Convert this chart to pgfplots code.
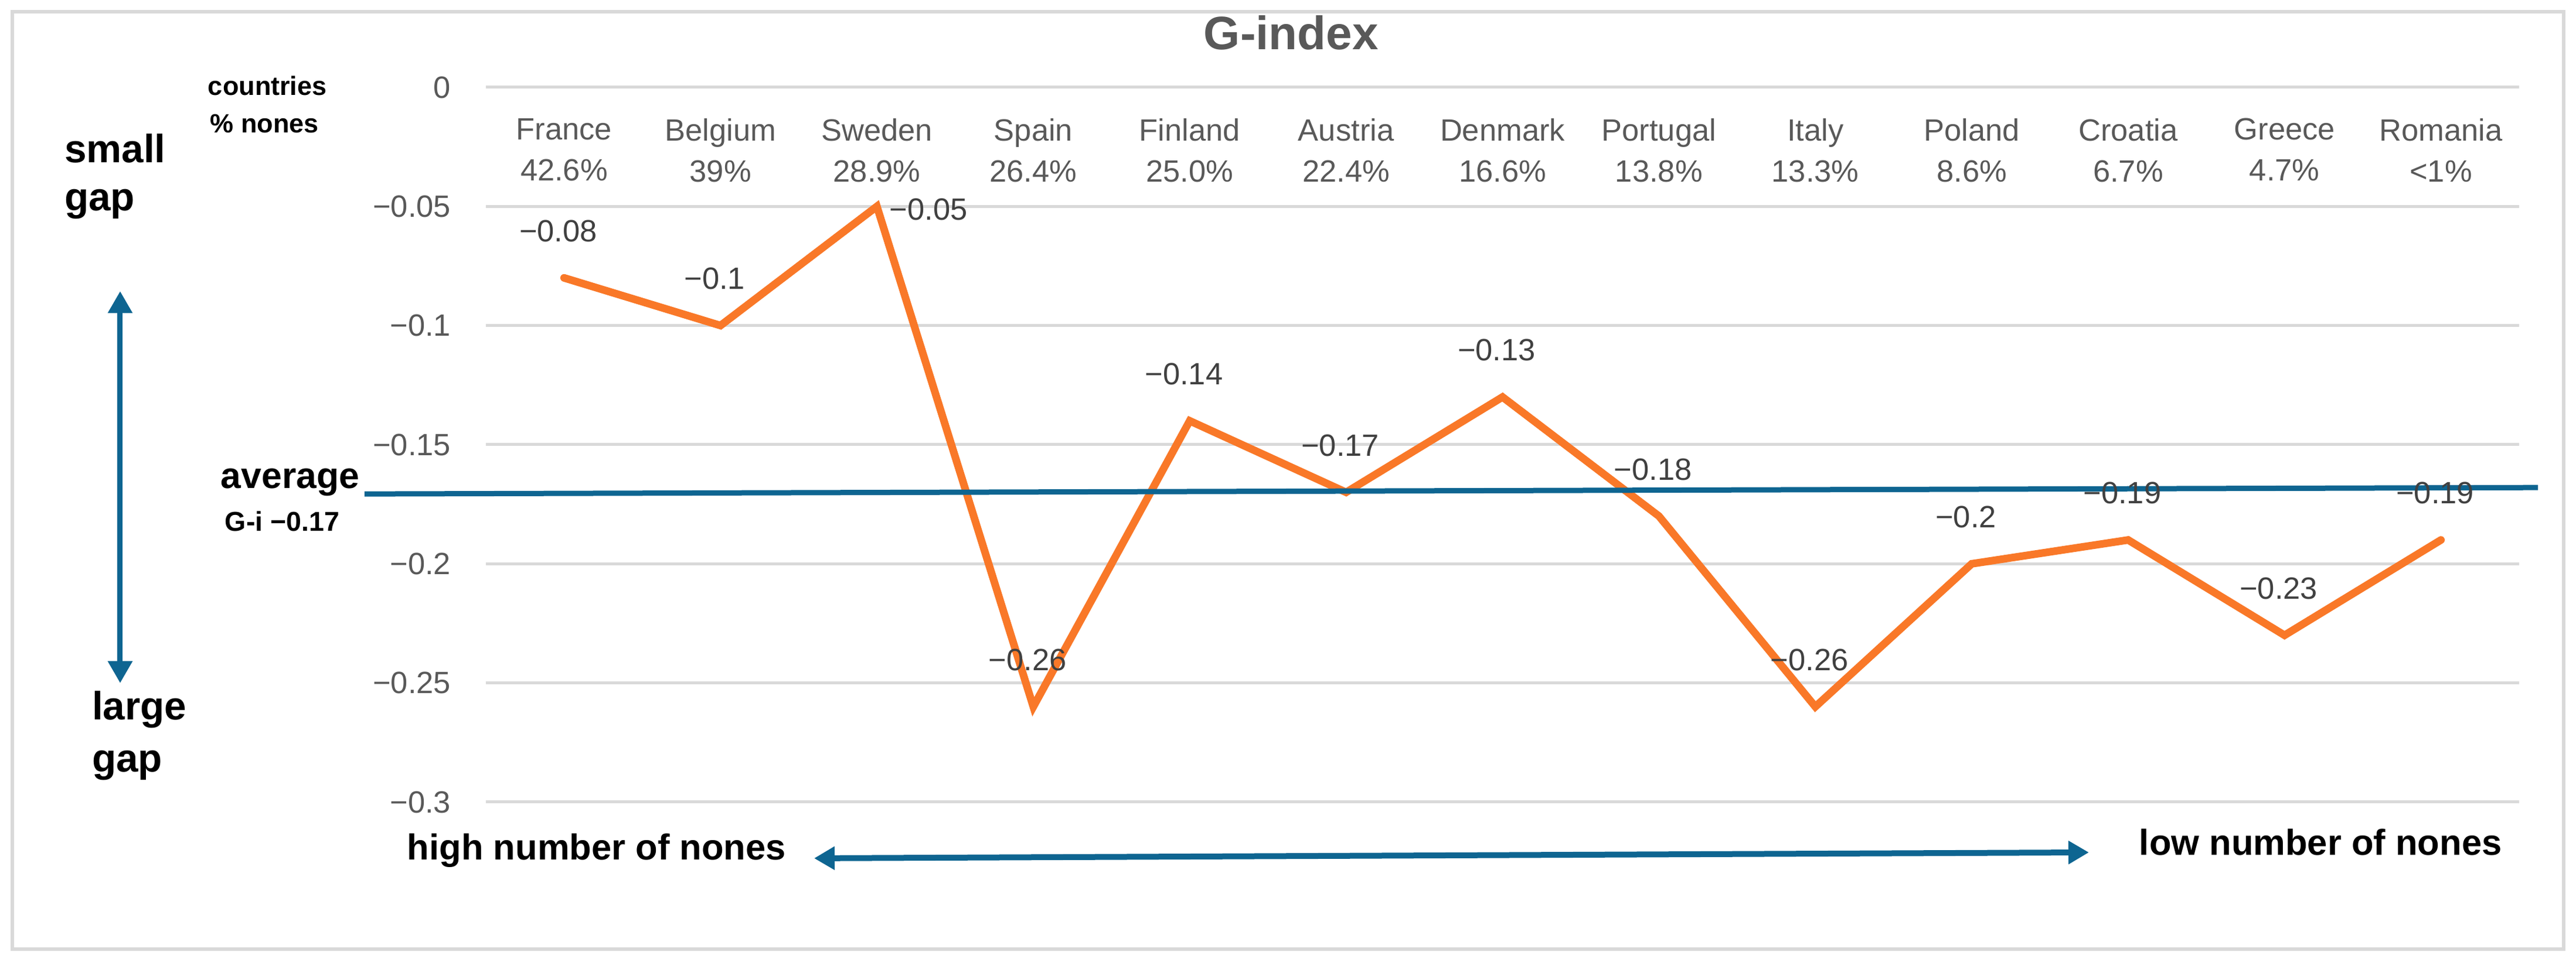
\documentclass[border=0pt]{standalone}
\usepackage{fontspec}
\setmainfont{Liberation Sans}
\usepackage{pgfplots}
\usepackage{pgfplotstable}
\pgfplotsset{compat=1.18}
\usetikzlibrary{arrows.meta}
\definecolor{gridgray}{HTML}{D9D9D9}
\definecolor{txtgray}{HTML}{595959}
\definecolor{lblgray}{HTML}{404040}
\definecolor{orangeline}{HTML}{F97828}
\definecolor{avgblue}{HTML}{0E6591}

\pgfplotstableread{
x y label dx dy
0  -0.08 −0.08 -2 16
1  -0.10 −0.1 -2 16
2  -0.05 −0.05 17.6 -1
3  -0.26 −0.26 -2 16
4  -0.14 −0.14 -2 16
5  -0.17 −0.17 -2 16
6  -0.13 −0.13 -2 16
7  -0.18 −0.18 -2 16
8  -0.26 −0.26 -2 16
9  -0.20 −0.2 -2 16
10 -0.19 −0.19 -2 16
11 -0.23 −0.23 -2 16
12 -0.19 −0.19 -2 16
}\gidata

\begin{document}
\begin{tikzpicture}
\useasboundingbox (0,0) rectangle (879pt,328.4pt);
\begin{scope}[x=0.2pt,y=-0.2pt,shift={(0,328.4pt)}]
  \draw[gridgray, line width=1.2pt] (21,20) rectangle (4374,1620);
\end{scope}
\begin{axis}[
  at={(165.8pt,54.6pt)}, anchor=south west,
  scale only axis, width=693.8pt, height=244pt,
  clip=false,
  xmin=-0.5, xmax=12.5, ymin=-0.3, ymax=0,
  axis line style={draw=none},
  tick style={draw=none}, major tick length=0pt,
  ytick={-0.3,-0.25,-0.2,-0.15,-0.1,-0.05,0},
  yticklabels={−0.3,−0.25,−0.2,−0.15,−0.1,−0.05,0},
  yticklabel style={anchor=east, inner sep=0pt, xshift=-11.8pt, font=\fontsize{10.5}{12}\selectfont, text=txtgray},
  ymajorgrids, grid style={gridgray, line width=1pt},
  xtick={0,...,12},
  xticklabel pos=upper,
  xticklabels={{France\\42.6\%},{Belgium\\39\%},{Sweden\\28.9\%},{Spain\\26.4\%},{Finland\\25.0\%},{Austria\\22.4\%},{Denmark\\16.6\%},{Portugal\\13.8\%},{Italy\\13.3\%},{Poland\\8.6\%},{Croatia\\6.7\%},{Greece\\4.7\%},{Romania\\<1\%}},
  xticklabel style={anchor=north, inner sep=0pt, yshift=-10.4pt, align=center, font=\fontsize{10.5}{14}\selectfont, text=txtgray},
  title={G-index},
  title style={at={(0.396,1)}, anchor=base, inner sep=0pt, yshift=6.8pt, font=\fontsize{16}{19}\selectfont\bfseries, text=txtgray},
]
\addplot[orangeline, line width=2.6pt, line cap=round, mark=none,
  point meta=explicit symbolic,
  visualization depends on={\thisrow{dx} \as \labeldx},
  visualization depends on={\thisrow{dy} \as \labeldy},
  nodes near coords,
  every node near coord/.append style={anchor=center, inner sep=0pt, xshift=\labeldx pt, yshift=\labeldy pt, font=\fontsize{10.5}{12}\selectfont, text=lblgray},
] table[x=x, y=y, meta=label] {\gidata};
\addplot[avgblue, line width=1.8pt, mark=none] coordinates {(-1.276,-0.1707) (12.62,-0.1680)};
\end{axis}
\begin{scope}[x=0.2pt,y=-0.2pt,shift={(0,328.4pt)}]
  \tikzset{ann/.style={anchor=base west, inner sep=0pt, text=black}}
  \node[ann, font=\fontsize{9}{10}\selectfont\bfseries] at (354,163) {countries};
  \node[ann, font=\fontsize{9}{10}\selectfont\bfseries] at (358,227) {\% nones};
  \node[ann, font=\fontsize{13.5}{15}\selectfont\bfseries] at (109,278) {small};
  \node[ann, font=\fontsize{13.5}{15}\selectfont\bfseries] at (109,360) {gap};
  \node[ann, font=\fontsize{13.5}{15}\selectfont\bfseries] at (156,1229) {large};
  \node[ann, font=\fontsize{13.5}{15}\selectfont\bfseries] at (156,1318) {gap};
  \node[ann, font=\fontsize{12.5}{14}\selectfont\bfseries] at (376,834) {average};
  \node[ann, font=\fontsize{9.3}{11}\selectfont\bfseries] at (383,907) {G-i −0.17};
  \node[ann, font=\fontsize{12.3}{14}\selectfont\bfseries] at (694,1468) {high number of nones};
  \node[ann, font=\fontsize{12.3}{14}\selectfont\bfseries] at (3649,1460) {low number of nones};
  \draw[avgblue, line width=1.8pt, {Triangle[width=8pt,length=7.5pt]}-{Triangle[width=8pt,length=7.5pt]}] (205,497) -- (205,1166);
  \draw[avgblue, line width=2pt, {Triangle[width=7.6pt,length=7pt]}-{Triangle[width=7.6pt,length=7pt]}] (1389,1465) -- (3564,1455);
\end{scope}
\end{tikzpicture}
\end{document}
